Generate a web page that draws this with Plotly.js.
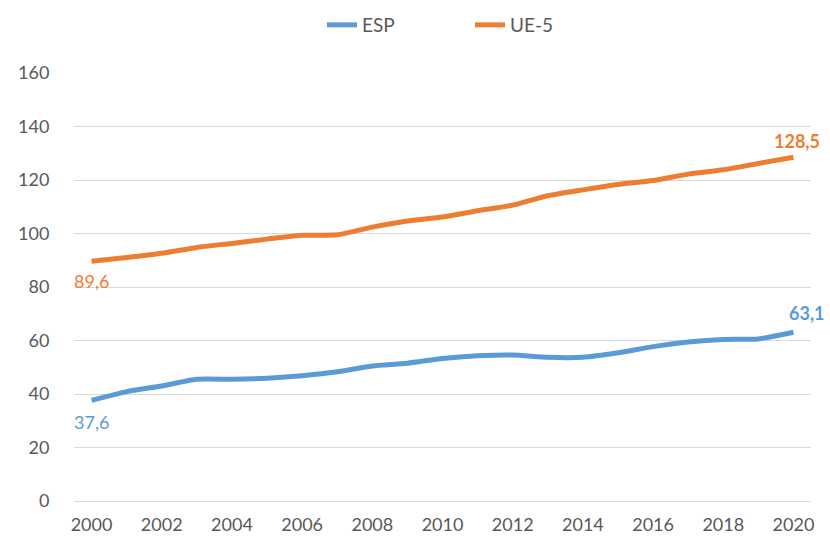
<!DOCTYPE html>
<html>
<head>
<meta charset="utf-8">
<script src="https://cdn.plot.ly/plotly-3.0.1.min.js"></script>
<style>html,body{margin:0;padding:0;background:#fff;} #chart{width:830px;height:540px;}</style>
</head>
<body>
<div id="chart"></div>
<script>
const years = [2000,2001,2002,2003,2004,2005,2006,2007,2008,2009,2010,2011,2012,2013,2014,2015,2016,2017,2018,2019,2020];
const esp = [37.6,40.9,43.0,45.5,45.5,45.9,46.8,48.3,50.5,51.5,53.3,54.3,54.6,53.7,53.7,55.4,57.7,59.4,60.4,60.6,63.1];
const ue5 = [89.6,91.0,92.6,94.8,96.3,97.9,99.3,99.5,102.4,104.7,106.2,108.5,110.6,114.1,116.3,118.3,119.8,122.2,123.8,126.2,128.5];
const xTicks = [2000,2002,2004,2006,2008,2010,2012,2014,2016,2018,2020];
const yTicks = [0,20,40,60,80,100,120,140,160];

const BLUE = '#5B9BD5', ORANGE = '#ED7D31';
const FONT = 'Lato, "Open Sans", sans-serif';
const fmt = v => v.toFixed(1).replace('.', ',');

const traces = [
  {x: years, y: esp, name: 'ESP', type: 'scatter', mode: 'lines',
   line: {color: BLUE, width: 5, shape: 'spline', smoothing: 0.6}},
  {x: years, y: ue5, name: 'UE-5', type: 'scatter', mode: 'lines',
   line: {color: ORANGE, width: 5, shape: 'spline', smoothing: 0.6}}
];

const last = years.length - 1;
const annotations = [
  {x: years[0], y: ue5[0], text: fmt(ue5[0]), showarrow: false, yshift: -20, xshift: 0,
   font: {family: FONT, size: 18, color: ORANGE}},
  {x: years[0], y: esp[0], text: fmt(esp[0]), showarrow: false, yshift: -22, xshift: 0,
   font: {family: FONT, size: 18, color: BLUE}},
  {x: years[last], y: ue5[last], text: '<b>' + fmt(ue5[last]) + '</b>', showarrow: false, yshift: 16, xshift: 4,
   font: {family: FONT, size: 18, color: ORANGE}},
  {x: years[last], y: esp[last], text: '<b>' + fmt(esp[last]) + '</b>', showarrow: false, yshift: 19, xshift: 14,
   font: {family: FONT, size: 18, color: BLUE}}
];

const layout = {
  width: 830, height: 540,
  margin: {l: 74, r: 19, t: 73, b: 39},
  paper_bgcolor: '#fff', plot_bgcolor: '#fff',
  showlegend: true,
  legend: {orientation: 'h', x: (322 - 74) / 737, xanchor: 'left', y: 1 - 25 / 540, yref: 'container', yanchor: 'middle',
           font: {family: FONT, size: 19, color: '#595959'}, entrywidth: 103, entrywidthmode: 'pixels', tracegroupgap: 0},
  xaxis: {range: [1999.5, 2020.5], tickvals: xTicks, ticktext: xTicks.map(String),
          showgrid: false, zeroline: false, showline: false,
          ticks: 'outside', ticklen: 7, tickcolor: 'rgba(0,0,0,0)',
          tickfont: {family: FONT, size: 18, color: '#595959'}, fixedrange: true},
  yaxis: {range: [0, 160], tickvals: yTicks, ticktext: yTicks.map(String),
          showgrid: true, gridcolor: '#D9D9D9', gridwidth: 1,
          zeroline: true, zerolinecolor: '#D9D9D9', zerolinewidth: 1, showline: false,
          ticks: 'outside', ticklen: 20, tickcolor: 'rgba(0,0,0,0)',
          tickfont: {family: FONT, size: 18, color: '#595959'}, fixedrange: true},
  annotations: annotations
};

Plotly.newPlot('chart', traces, layout, {displayModeBar: false, staticPlot: true});
</script>
</body>
</html>
